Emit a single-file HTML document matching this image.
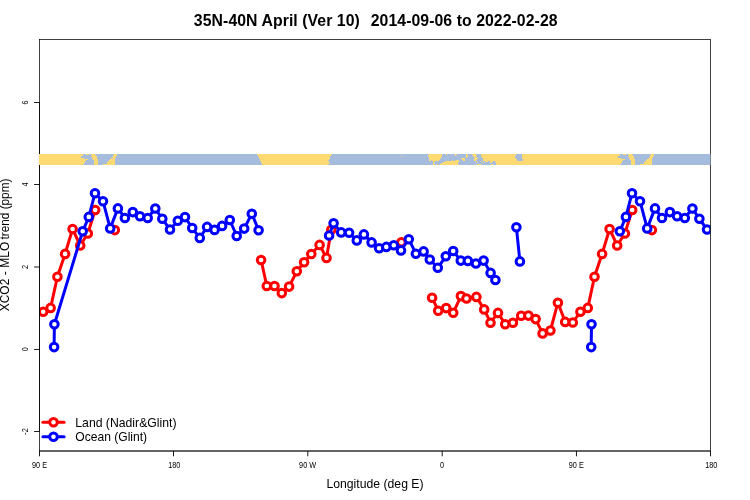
<!DOCTYPE html>
<html><head><meta charset="utf-8"><title>35N-40N April</title>
<style>
html,body{margin:0;padding:0;background:#fff;}
body{width:750px;height:500px;overflow:hidden;}
svg{display:block;font-family:"Liberation Sans",sans-serif;fill:#000;will-change:transform;}
</style></head><body>
<svg width="750" height="500" viewBox="0 0 750 500">
<rect width="750" height="500" fill="#fff"/>
<defs><clipPath id="c"><rect x="39.5" y="39.5" width="671.0" height="411.5"/></clipPath></defs>
<g font-size="15.8" font-weight="bold"><text x="193.85" y="25.6" textLength="166.0" lengthAdjust="spacing">35N-40N April (Ver 10)</text><text x="370.75" y="25.6" textLength="186.8" lengthAdjust="spacing">2014-09-06 to 2022-02-28</text></g>
<text x="375" y="487.6" text-anchor="middle" font-size="12.23">Longitude (deg E)</text>
<g transform="translate(9,245) rotate(-90)" font-size="11.88"><text x="-66.3" y="0" textLength="69.5" lengthAdjust="spacing">XCO2 - MLO</text><text x="5.6" y="0" textLength="60.9" lengthAdjust="spacing">trend (ppm)</text></g>
<g clip-path="url(#c)">
<polyline fill="none" stroke="#ff0000" stroke-width="3.00" stroke-linejoin="round" stroke-linecap="round" points="43.2,311.7 50.6,307.9 57.4,276.8 65.1,253.9 72.6,229.0 80.2,245.5 87.8,233.5 95.2,210.0"/>
<polyline fill="none" stroke="#ff0000" stroke-width="3.00" stroke-linejoin="round" stroke-linecap="round" points="261.1,260.0 266.8,286.0 274.5,286.0 281.8,293.1 289.1,286.6 296.8,271.3 304.1,262.3 311.3,254.0 319.6,244.9 326.5,257.9 331.3,229.7"/>
<polyline fill="none" stroke="#ff0000" stroke-width="3.00" stroke-linejoin="round" stroke-linecap="round" points="432.1,297.7 438.2,310.7 446.2,308.1 453.2,312.8 460.9,296.1 466.5,298.5 476.4,296.9 484.2,309.4 490.5,322.7 498.0,312.9 505.2,324.3 512.9,322.7 521.2,315.8 528.4,315.6 535.6,319.1 542.6,333.4 550.4,330.5 557.9,302.7 565.2,321.9 572.8,322.5 580.4,311.7 587.8,307.9 594.5,276.8 602.1,253.9 609.6,229.0 617.2,245.5 624.9,233.5 632.2,210.0"/>
<circle cx="43.2" cy="311.7" r="3.80" fill="#fff" stroke="#ff0000" stroke-width="3.00"/>
<circle cx="50.6" cy="307.9" r="3.80" fill="#fff" stroke="#ff0000" stroke-width="3.00"/>
<circle cx="57.4" cy="276.8" r="3.80" fill="#fff" stroke="#ff0000" stroke-width="3.00"/>
<circle cx="65.1" cy="253.9" r="3.80" fill="#fff" stroke="#ff0000" stroke-width="3.00"/>
<circle cx="72.6" cy="229.0" r="3.80" fill="#fff" stroke="#ff0000" stroke-width="3.00"/>
<circle cx="80.2" cy="245.5" r="3.80" fill="#fff" stroke="#ff0000" stroke-width="3.00"/>
<circle cx="87.8" cy="233.5" r="3.80" fill="#fff" stroke="#ff0000" stroke-width="3.00"/>
<circle cx="95.2" cy="210.0" r="3.80" fill="#fff" stroke="#ff0000" stroke-width="3.00"/>
<circle cx="114.8" cy="230.1" r="3.80" fill="#fff" stroke="#ff0000" stroke-width="3.00"/>
<circle cx="261.1" cy="260.0" r="3.80" fill="#fff" stroke="#ff0000" stroke-width="3.00"/>
<circle cx="266.8" cy="286.0" r="3.80" fill="#fff" stroke="#ff0000" stroke-width="3.00"/>
<circle cx="274.5" cy="286.0" r="3.80" fill="#fff" stroke="#ff0000" stroke-width="3.00"/>
<circle cx="281.8" cy="293.1" r="3.80" fill="#fff" stroke="#ff0000" stroke-width="3.00"/>
<circle cx="289.1" cy="286.6" r="3.80" fill="#fff" stroke="#ff0000" stroke-width="3.00"/>
<circle cx="296.8" cy="271.3" r="3.80" fill="#fff" stroke="#ff0000" stroke-width="3.00"/>
<circle cx="304.1" cy="262.3" r="3.80" fill="#fff" stroke="#ff0000" stroke-width="3.00"/>
<circle cx="311.3" cy="254.0" r="3.80" fill="#fff" stroke="#ff0000" stroke-width="3.00"/>
<circle cx="319.6" cy="244.9" r="3.80" fill="#fff" stroke="#ff0000" stroke-width="3.00"/>
<circle cx="326.5" cy="257.9" r="3.80" fill="#fff" stroke="#ff0000" stroke-width="3.00"/>
<circle cx="331.3" cy="229.7" r="3.80" fill="#fff" stroke="#ff0000" stroke-width="3.00"/>
<circle cx="401.4" cy="242.3" r="3.80" fill="#fff" stroke="#ff0000" stroke-width="3.00"/>
<circle cx="432.1" cy="297.7" r="3.80" fill="#fff" stroke="#ff0000" stroke-width="3.00"/>
<circle cx="438.2" cy="310.7" r="3.80" fill="#fff" stroke="#ff0000" stroke-width="3.00"/>
<circle cx="446.2" cy="308.1" r="3.80" fill="#fff" stroke="#ff0000" stroke-width="3.00"/>
<circle cx="453.2" cy="312.8" r="3.80" fill="#fff" stroke="#ff0000" stroke-width="3.00"/>
<circle cx="460.9" cy="296.1" r="3.80" fill="#fff" stroke="#ff0000" stroke-width="3.00"/>
<circle cx="466.5" cy="298.5" r="3.80" fill="#fff" stroke="#ff0000" stroke-width="3.00"/>
<circle cx="476.4" cy="296.9" r="3.80" fill="#fff" stroke="#ff0000" stroke-width="3.00"/>
<circle cx="484.2" cy="309.4" r="3.80" fill="#fff" stroke="#ff0000" stroke-width="3.00"/>
<circle cx="490.5" cy="322.7" r="3.80" fill="#fff" stroke="#ff0000" stroke-width="3.00"/>
<circle cx="498.0" cy="312.9" r="3.80" fill="#fff" stroke="#ff0000" stroke-width="3.00"/>
<circle cx="505.2" cy="324.3" r="3.80" fill="#fff" stroke="#ff0000" stroke-width="3.00"/>
<circle cx="512.9" cy="322.7" r="3.80" fill="#fff" stroke="#ff0000" stroke-width="3.00"/>
<circle cx="521.2" cy="315.8" r="3.80" fill="#fff" stroke="#ff0000" stroke-width="3.00"/>
<circle cx="528.4" cy="315.6" r="3.80" fill="#fff" stroke="#ff0000" stroke-width="3.00"/>
<circle cx="535.6" cy="319.1" r="3.80" fill="#fff" stroke="#ff0000" stroke-width="3.00"/>
<circle cx="542.6" cy="333.4" r="3.80" fill="#fff" stroke="#ff0000" stroke-width="3.00"/>
<circle cx="550.4" cy="330.5" r="3.80" fill="#fff" stroke="#ff0000" stroke-width="3.00"/>
<circle cx="557.9" cy="302.7" r="3.80" fill="#fff" stroke="#ff0000" stroke-width="3.00"/>
<circle cx="565.2" cy="321.9" r="3.80" fill="#fff" stroke="#ff0000" stroke-width="3.00"/>
<circle cx="572.8" cy="322.5" r="3.80" fill="#fff" stroke="#ff0000" stroke-width="3.00"/>
<circle cx="580.4" cy="311.7" r="3.80" fill="#fff" stroke="#ff0000" stroke-width="3.00"/>
<circle cx="587.8" cy="307.9" r="3.80" fill="#fff" stroke="#ff0000" stroke-width="3.00"/>
<circle cx="594.5" cy="276.8" r="3.80" fill="#fff" stroke="#ff0000" stroke-width="3.00"/>
<circle cx="602.1" cy="253.9" r="3.80" fill="#fff" stroke="#ff0000" stroke-width="3.00"/>
<circle cx="609.6" cy="229.0" r="3.80" fill="#fff" stroke="#ff0000" stroke-width="3.00"/>
<circle cx="617.2" cy="245.5" r="3.80" fill="#fff" stroke="#ff0000" stroke-width="3.00"/>
<circle cx="624.9" cy="233.5" r="3.80" fill="#fff" stroke="#ff0000" stroke-width="3.00"/>
<circle cx="632.2" cy="210.0" r="3.80" fill="#fff" stroke="#ff0000" stroke-width="3.00"/>
<circle cx="651.9" cy="230.1" r="3.80" fill="#fff" stroke="#ff0000" stroke-width="3.00"/>
<polyline fill="none" stroke="#0000ff" stroke-width="3.00" stroke-linejoin="round" stroke-linecap="round" points="54.1,347.1 54.4,324.2 82.7,231.3 88.8,216.9 95.0,193.2 103.0,201.2 110.2,228.4 117.9,208.4 124.9,218.0 132.8,212.1 140.0,216.3 147.7,218.0 155.3,208.5 162.3,218.8 170.0,229.5 177.8,220.8 185.0,217.1 192.2,228.0 199.8,237.9 207.1,226.9 214.6,229.9 222.1,225.9 229.8,220.0 236.7,236.0 244.2,228.6 251.8,213.7 258.6,230.2"/>
<polyline fill="none" stroke="#0000ff" stroke-width="3.00" stroke-linejoin="round" stroke-linecap="round" points="329.1,235.5 333.6,223.3 341.2,232.4 349.1,232.7 356.8,240.4 363.9,234.4 371.6,242.4 379.1,248.3 386.3,246.9 393.8,245.3 401.0,250.4 408.8,239.2 415.9,253.7 423.6,251.4 429.8,259.5 437.8,267.8 445.8,256.3 453.2,251.0 460.8,260.6 467.9,260.9 475.9,263.5 483.6,260.6 490.6,272.9 495.4,280.0"/>
<polyline fill="none" stroke="#0000ff" stroke-width="3.00" stroke-linejoin="round" stroke-linecap="round" points="516.4,227.3 519.9,261.4"/>
<polyline fill="none" stroke="#0000ff" stroke-width="3.00" stroke-linejoin="round" stroke-linecap="round" points="591.2,347.1 591.5,324.2"/>
<polyline fill="none" stroke="#0000ff" stroke-width="3.00" stroke-linejoin="round" stroke-linecap="round" points="619.8,231.3 625.9,216.9 632.0,193.2 640.0,201.2 647.2,228.4 655.0,208.4 662.0,218.0 669.9,212.1 677.1,216.3 684.8,218.0 692.4,208.5 699.4,218.8 707.1,229.5"/>
<circle cx="54.1" cy="347.1" r="3.80" fill="#fff" stroke="#0000ff" stroke-width="3.00"/>
<circle cx="54.4" cy="324.2" r="3.80" fill="#fff" stroke="#0000ff" stroke-width="3.00"/>
<circle cx="82.7" cy="231.3" r="3.80" fill="#fff" stroke="#0000ff" stroke-width="3.00"/>
<circle cx="88.8" cy="216.9" r="3.80" fill="#fff" stroke="#0000ff" stroke-width="3.00"/>
<circle cx="95.0" cy="193.2" r="3.80" fill="#fff" stroke="#0000ff" stroke-width="3.00"/>
<circle cx="103.0" cy="201.2" r="3.80" fill="#fff" stroke="#0000ff" stroke-width="3.00"/>
<circle cx="110.2" cy="228.4" r="3.80" fill="#fff" stroke="#0000ff" stroke-width="3.00"/>
<circle cx="117.9" cy="208.4" r="3.80" fill="#fff" stroke="#0000ff" stroke-width="3.00"/>
<circle cx="124.9" cy="218.0" r="3.80" fill="#fff" stroke="#0000ff" stroke-width="3.00"/>
<circle cx="132.8" cy="212.1" r="3.80" fill="#fff" stroke="#0000ff" stroke-width="3.00"/>
<circle cx="140.0" cy="216.3" r="3.80" fill="#fff" stroke="#0000ff" stroke-width="3.00"/>
<circle cx="147.7" cy="218.0" r="3.80" fill="#fff" stroke="#0000ff" stroke-width="3.00"/>
<circle cx="155.3" cy="208.5" r="3.80" fill="#fff" stroke="#0000ff" stroke-width="3.00"/>
<circle cx="162.3" cy="218.8" r="3.80" fill="#fff" stroke="#0000ff" stroke-width="3.00"/>
<circle cx="170.0" cy="229.5" r="3.80" fill="#fff" stroke="#0000ff" stroke-width="3.00"/>
<circle cx="177.8" cy="220.8" r="3.80" fill="#fff" stroke="#0000ff" stroke-width="3.00"/>
<circle cx="185.0" cy="217.1" r="3.80" fill="#fff" stroke="#0000ff" stroke-width="3.00"/>
<circle cx="192.2" cy="228.0" r="3.80" fill="#fff" stroke="#0000ff" stroke-width="3.00"/>
<circle cx="199.8" cy="237.9" r="3.80" fill="#fff" stroke="#0000ff" stroke-width="3.00"/>
<circle cx="207.1" cy="226.9" r="3.80" fill="#fff" stroke="#0000ff" stroke-width="3.00"/>
<circle cx="214.6" cy="229.9" r="3.80" fill="#fff" stroke="#0000ff" stroke-width="3.00"/>
<circle cx="222.1" cy="225.9" r="3.80" fill="#fff" stroke="#0000ff" stroke-width="3.00"/>
<circle cx="229.8" cy="220.0" r="3.80" fill="#fff" stroke="#0000ff" stroke-width="3.00"/>
<circle cx="236.7" cy="236.0" r="3.80" fill="#fff" stroke="#0000ff" stroke-width="3.00"/>
<circle cx="244.2" cy="228.6" r="3.80" fill="#fff" stroke="#0000ff" stroke-width="3.00"/>
<circle cx="251.8" cy="213.7" r="3.80" fill="#fff" stroke="#0000ff" stroke-width="3.00"/>
<circle cx="258.6" cy="230.2" r="3.80" fill="#fff" stroke="#0000ff" stroke-width="3.00"/>
<circle cx="329.1" cy="235.5" r="3.80" fill="#fff" stroke="#0000ff" stroke-width="3.00"/>
<circle cx="333.6" cy="223.3" r="3.80" fill="#fff" stroke="#0000ff" stroke-width="3.00"/>
<circle cx="341.2" cy="232.4" r="3.80" fill="#fff" stroke="#0000ff" stroke-width="3.00"/>
<circle cx="349.1" cy="232.7" r="3.80" fill="#fff" stroke="#0000ff" stroke-width="3.00"/>
<circle cx="356.8" cy="240.4" r="3.80" fill="#fff" stroke="#0000ff" stroke-width="3.00"/>
<circle cx="363.9" cy="234.4" r="3.80" fill="#fff" stroke="#0000ff" stroke-width="3.00"/>
<circle cx="371.6" cy="242.4" r="3.80" fill="#fff" stroke="#0000ff" stroke-width="3.00"/>
<circle cx="379.1" cy="248.3" r="3.80" fill="#fff" stroke="#0000ff" stroke-width="3.00"/>
<circle cx="386.3" cy="246.9" r="3.80" fill="#fff" stroke="#0000ff" stroke-width="3.00"/>
<circle cx="393.8" cy="245.3" r="3.80" fill="#fff" stroke="#0000ff" stroke-width="3.00"/>
<circle cx="401.0" cy="250.4" r="3.80" fill="#fff" stroke="#0000ff" stroke-width="3.00"/>
<circle cx="408.8" cy="239.2" r="3.80" fill="#fff" stroke="#0000ff" stroke-width="3.00"/>
<circle cx="415.9" cy="253.7" r="3.80" fill="#fff" stroke="#0000ff" stroke-width="3.00"/>
<circle cx="423.6" cy="251.4" r="3.80" fill="#fff" stroke="#0000ff" stroke-width="3.00"/>
<circle cx="429.8" cy="259.5" r="3.80" fill="#fff" stroke="#0000ff" stroke-width="3.00"/>
<circle cx="437.8" cy="267.8" r="3.80" fill="#fff" stroke="#0000ff" stroke-width="3.00"/>
<circle cx="445.8" cy="256.3" r="3.80" fill="#fff" stroke="#0000ff" stroke-width="3.00"/>
<circle cx="453.2" cy="251.0" r="3.80" fill="#fff" stroke="#0000ff" stroke-width="3.00"/>
<circle cx="460.8" cy="260.6" r="3.80" fill="#fff" stroke="#0000ff" stroke-width="3.00"/>
<circle cx="467.9" cy="260.9" r="3.80" fill="#fff" stroke="#0000ff" stroke-width="3.00"/>
<circle cx="475.9" cy="263.5" r="3.80" fill="#fff" stroke="#0000ff" stroke-width="3.00"/>
<circle cx="483.6" cy="260.6" r="3.80" fill="#fff" stroke="#0000ff" stroke-width="3.00"/>
<circle cx="490.6" cy="272.9" r="3.80" fill="#fff" stroke="#0000ff" stroke-width="3.00"/>
<circle cx="495.4" cy="280.0" r="3.80" fill="#fff" stroke="#0000ff" stroke-width="3.00"/>
<circle cx="516.4" cy="227.3" r="3.80" fill="#fff" stroke="#0000ff" stroke-width="3.00"/>
<circle cx="519.9" cy="261.4" r="3.80" fill="#fff" stroke="#0000ff" stroke-width="3.00"/>
<circle cx="591.2" cy="347.1" r="3.80" fill="#fff" stroke="#0000ff" stroke-width="3.00"/>
<circle cx="591.5" cy="324.2" r="3.80" fill="#fff" stroke="#0000ff" stroke-width="3.00"/>
<circle cx="619.8" cy="231.3" r="3.80" fill="#fff" stroke="#0000ff" stroke-width="3.00"/>
<circle cx="625.9" cy="216.9" r="3.80" fill="#fff" stroke="#0000ff" stroke-width="3.00"/>
<circle cx="632.0" cy="193.2" r="3.80" fill="#fff" stroke="#0000ff" stroke-width="3.00"/>
<circle cx="640.0" cy="201.2" r="3.80" fill="#fff" stroke="#0000ff" stroke-width="3.00"/>
<circle cx="647.2" cy="228.4" r="3.80" fill="#fff" stroke="#0000ff" stroke-width="3.00"/>
<circle cx="655.0" cy="208.4" r="3.80" fill="#fff" stroke="#0000ff" stroke-width="3.00"/>
<circle cx="662.0" cy="218.0" r="3.80" fill="#fff" stroke="#0000ff" stroke-width="3.00"/>
<circle cx="669.9" cy="212.1" r="3.80" fill="#fff" stroke="#0000ff" stroke-width="3.00"/>
<circle cx="677.1" cy="216.3" r="3.80" fill="#fff" stroke="#0000ff" stroke-width="3.00"/>
<circle cx="684.8" cy="218.0" r="3.80" fill="#fff" stroke="#0000ff" stroke-width="3.00"/>
<circle cx="692.4" cy="208.5" r="3.80" fill="#fff" stroke="#0000ff" stroke-width="3.00"/>
<circle cx="699.4" cy="218.8" r="3.80" fill="#fff" stroke="#0000ff" stroke-width="3.00"/>
<circle cx="707.1" cy="229.5" r="3.80" fill="#fff" stroke="#0000ff" stroke-width="3.00"/>
</g>
<rect x="39.5" y="39.5" width="671.0" height="411.5" fill="none" stroke="#000" stroke-width="0.75"/>
<path d="M39.5 451.0H710.5" fill="none" stroke="#000" stroke-width="0.75"/>
<path d="M39.50 451.0V456.3" fill="none" stroke="#000" stroke-width="0.9"/>
<text transform="translate(39.5,468.3) scale(1,1.13)" text-anchor="middle" font-size="7.3">90 E</text>
<path d="M173.50 451.0V456.3" fill="none" stroke="#000" stroke-width="0.9"/>
<text transform="translate(174.3,468.3) scale(1,1.13)" text-anchor="middle" font-size="7.3">180</text>
<path d="M307.80 451.0V456.3" fill="none" stroke="#000" stroke-width="0.9"/>
<text transform="translate(307.6,468.3) scale(1,1.13)" text-anchor="middle" font-size="7.3">90 W</text>
<path d="M442.20 451.0V456.3" fill="none" stroke="#000" stroke-width="0.9"/>
<text transform="translate(442.1,468.3) scale(1,1.13)" text-anchor="middle" font-size="7.3">0</text>
<path d="M576.45 451.0V456.3" fill="none" stroke="#000" stroke-width="0.9"/>
<text transform="translate(576.3,468.3) scale(1,1.13)" text-anchor="middle" font-size="7.3">90 E</text>
<path d="M710.50 451.0V456.3" fill="none" stroke="#000" stroke-width="0.9"/>
<text transform="translate(711.3,468.3) scale(1,1.13)" text-anchor="middle" font-size="7.3">180</text>
<path d="M39.5 431.50V102.50" fill="none" stroke="#000" stroke-width="0.75"/>
<path d="M34.1 431.50H39.5" fill="none" stroke="#000" stroke-width="0.9"/>
<text transform="translate(27.7,431.4) rotate(-90) scale(1,1.16)" text-anchor="middle" font-size="7.3">-2</text>
<path d="M34.1 349.45H39.5" fill="none" stroke="#000" stroke-width="0.9"/>
<text transform="translate(27.7,349.3) rotate(-90) scale(1,1.16)" text-anchor="middle" font-size="7.3">0</text>
<path d="M34.1 267.00H39.5" fill="none" stroke="#000" stroke-width="0.9"/>
<text transform="translate(27.7,266.9) rotate(-90) scale(1,1.16)" text-anchor="middle" font-size="7.3">2</text>
<path d="M34.1 184.50H39.5" fill="none" stroke="#000" stroke-width="0.9"/>
<text transform="translate(27.7,184.4) rotate(-90) scale(1,1.16)" text-anchor="middle" font-size="7.3">4</text>
<path d="M34.1 102.50H39.5" fill="none" stroke="#000" stroke-width="0.9"/>
<text transform="translate(27.7,102.4) rotate(-90) scale(1,1.16)" text-anchor="middle" font-size="7.3">6</text>
<g shape-rendering="crispEdges">
<rect x="38.75" y="153.88" width="671.25" height="1.03" fill="#a6bcdc"/>
<rect x="38.75" y="154.89" width="671.25" height="1.03" fill="#a6bcdc"/>
<rect x="38.75" y="155.90" width="671.25" height="1.03" fill="#a6bcdc"/>
<rect x="38.75" y="156.91" width="671.25" height="1.03" fill="#a6bcdc"/>
<rect x="38.75" y="157.92" width="671.25" height="1.03" fill="#a6bcdc"/>
<rect x="38.75" y="158.93" width="671.25" height="1.03" fill="#a6bcdc"/>
<rect x="38.75" y="159.95" width="671.25" height="1.03" fill="#a6bcdc"/>
<rect x="38.75" y="160.96" width="671.25" height="1.03" fill="#a6bcdc"/>
<rect x="38.75" y="161.97" width="671.25" height="1.03" fill="#a6bcdc"/>
<rect x="38.75" y="162.98" width="671.25" height="1.03" fill="#a6bcdc"/>
<rect x="38.75" y="163.99" width="671.25" height="1.03" fill="#a6bcdc"/>
<rect x="38.75" y="153.88" width="41.25" height="1.03" fill="#ffd972"/>
<rect x="38.75" y="154.89" width="41.25" height="1.03" fill="#ffd972"/>
<rect x="38.75" y="155.90" width="41.25" height="1.03" fill="#ffd972"/>
<rect x="38.75" y="156.91" width="41.25" height="1.03" fill="#ffd972"/>
<rect x="38.75" y="157.92" width="41.25" height="1.03" fill="#ffd972"/>
<rect x="38.75" y="158.93" width="41.25" height="1.03" fill="#ffd972"/>
<rect x="38.75" y="159.95" width="41.25" height="1.03" fill="#ffd972"/>
<rect x="38.75" y="160.96" width="41.25" height="1.03" fill="#ffd972"/>
<rect x="38.75" y="161.97" width="41.25" height="1.03" fill="#ffd972"/>
<rect x="38.75" y="162.98" width="41.25" height="1.03" fill="#ffd972"/>
<rect x="38.75" y="163.99" width="41.25" height="1.03" fill="#ffd972"/>
<rect x="80.00" y="153.88" width="3.22" height="1.03" fill="#ffd972"/>
<rect x="80.00" y="154.89" width="3.22" height="1.03" fill="#ffd972"/>
<rect x="80.00" y="155.90" width="1.25" height="1.03" fill="#ffd972"/>
<rect x="80.00" y="156.91" width="1.25" height="1.03" fill="#ffd972"/>
<rect x="80.00" y="157.92" width="4.08" height="1.03" fill="#ffd972"/>
<rect x="80.00" y="158.93" width="8.02" height="1.03" fill="#ffd972"/>
<rect x="80.00" y="159.95" width="6.10" height="1.03" fill="#ffd972"/>
<rect x="80.00" y="160.96" width="5.14" height="1.03" fill="#ffd972"/>
<rect x="80.00" y="161.97" width="5.14" height="1.03" fill="#ffd972"/>
<rect x="80.00" y="162.98" width="4.18" height="1.03" fill="#ffd972"/>
<rect x="80.00" y="163.99" width="3.22" height="1.03" fill="#ffd972"/>
<rect x="86.00" y="153.88" width="3.12" height="1.03" fill="#ffd972"/>
<rect x="91.04" y="153.88" width="4.08" height="1.03" fill="#ffd972"/>
<rect x="92.00" y="154.89" width="4.08" height="1.03" fill="#ffd972"/>
<rect x="91.04" y="155.90" width="6.00" height="1.03" fill="#ffd972"/>
<rect x="92.00" y="156.91" width="5.04" height="1.03" fill="#ffd972"/>
<rect x="92.00" y="157.92" width="5.04" height="1.03" fill="#ffd972"/>
<rect x="92.96" y="158.93" width="5.04" height="1.03" fill="#ffd972"/>
<rect x="93.92" y="159.95" width="4.08" height="1.03" fill="#ffd972"/>
<rect x="93.92" y="160.96" width="4.08" height="1.03" fill="#ffd972"/>
<rect x="93.92" y="161.97" width="4.08" height="1.03" fill="#ffd972"/>
<rect x="93.92" y="162.98" width="4.08" height="1.03" fill="#ffd972"/>
<rect x="93.92" y="163.99" width="4.08" height="1.03" fill="#ffd972"/>
<rect x="114.18" y="153.88" width="2.78" height="1.03" fill="#ffd972"/>
<rect x="113.22" y="154.89" width="3.74" height="1.03" fill="#ffd972"/>
<rect x="113.22" y="155.90" width="2.78" height="1.03" fill="#ffd972"/>
<rect x="112.26" y="156.91" width="3.74" height="1.03" fill="#ffd972"/>
<rect x="111.06" y="157.92" width="4.22" height="1.03" fill="#ffd972"/>
<rect x="110.10" y="158.93" width="5.18" height="1.03" fill="#ffd972"/>
<rect x="109.14" y="159.95" width="6.14" height="1.03" fill="#ffd972"/>
<rect x="108.18" y="160.96" width="7.10" height="1.03" fill="#ffd972"/>
<rect x="107.46" y="161.97" width="7.82" height="1.03" fill="#ffd972"/>
<rect x="107.12" y="162.98" width="8.16" height="1.03" fill="#ffd972"/>
<rect x="103.14" y="163.99" width="12.14" height="1.03" fill="#ffd972"/>
<rect x="112.26" y="157.92" width="0.96" height="1.03" fill="#a6bcdc"/>
<rect x="257.00" y="153.88" width="75.10" height="1.03" fill="#ffd972"/>
<rect x="257.50" y="154.89" width="73.60" height="1.03" fill="#ffd972"/>
<rect x="258.00" y="155.90" width="72.20" height="1.03" fill="#ffd972"/>
<rect x="258.50" y="156.91" width="71.70" height="1.03" fill="#ffd972"/>
<rect x="259.00" y="157.92" width="70.70" height="1.03" fill="#ffd972"/>
<rect x="259.50" y="158.93" width="69.50" height="1.03" fill="#ffd972"/>
<rect x="260.00" y="159.95" width="68.00" height="1.03" fill="#ffd972"/>
<rect x="260.50" y="160.96" width="68.20" height="1.03" fill="#ffd972"/>
<rect x="261.00" y="161.97" width="68.20" height="1.03" fill="#ffd972"/>
<rect x="261.50" y="162.98" width="68.70" height="1.03" fill="#ffd972"/>
<rect x="262.00" y="163.99" width="66.00" height="1.03" fill="#ffd972"/>
<rect x="401.00" y="155.90" width="1.00" height="1.03" fill="#ffd972"/>
<rect x="429.12" y="153.88" width="12.72" height="1.03" fill="#ffd972"/>
<rect x="445.92" y="153.88" width="1.20" height="1.03" fill="#ffd972"/>
<rect x="455.28" y="153.88" width="1.68" height="1.03" fill="#ffd972"/>
<rect x="428.02" y="154.89" width="13.82" height="1.03" fill="#ffd972"/>
<rect x="455.28" y="154.89" width="0.96" height="1.03" fill="#ffd972"/>
<rect x="428.02" y="155.90" width="13.82" height="1.03" fill="#ffd972"/>
<rect x="429.12" y="156.91" width="12.24" height="1.03" fill="#ffd972"/>
<rect x="429.12" y="157.92" width="11.52" height="1.03" fill="#ffd972"/>
<rect x="461.04" y="157.92" width="0.96" height="1.03" fill="#ffd972"/>
<rect x="429.12" y="158.93" width="10.80" height="1.03" fill="#ffd972"/>
<rect x="429.12" y="159.95" width="1.68" height="1.03" fill="#ffd972"/>
<rect x="432.00" y="159.95" width="6.96" height="1.03" fill="#ffd972"/>
<rect x="452.16" y="159.95" width="0.96" height="1.03" fill="#ffd972"/>
<rect x="455.28" y="159.95" width="3.84" height="1.03" fill="#ffd972"/>
<rect x="432.96" y="160.96" width="2.16" height="1.03" fill="#ffd972"/>
<rect x="445.20" y="160.96" width="13.92" height="1.03" fill="#ffd972"/>
<rect x="432.96" y="161.97" width="1.20" height="1.03" fill="#ffd972"/>
<rect x="443.04" y="161.97" width="15.12" height="1.03" fill="#ffd972"/>
<rect x="432.96" y="162.98" width="1.20" height="1.03" fill="#ffd972"/>
<rect x="441.36" y="162.98" width="16.80" height="1.03" fill="#ffd972"/>
<rect x="432.96" y="163.99" width="2.16" height="1.03" fill="#ffd972"/>
<rect x="437.04" y="163.99" width="0.96" height="1.03" fill="#ffd972"/>
<rect x="440.16" y="163.99" width="18.96" height="1.03" fill="#ffd972"/>
<rect x="456.00" y="153.88" width="1.06" height="1.03" fill="#ffd972"/>
<rect x="465.98" y="153.88" width="1.06" height="1.03" fill="#ffd972"/>
<rect x="472.08" y="153.88" width="3.84" height="1.03" fill="#ffd972"/>
<rect x="465.98" y="154.89" width="2.02" height="1.03" fill="#ffd972"/>
<rect x="473.04" y="154.89" width="4.08" height="1.03" fill="#ffd972"/>
<rect x="465.98" y="155.90" width="2.02" height="1.03" fill="#ffd972"/>
<rect x="473.04" y="155.90" width="2.88" height="1.03" fill="#ffd972"/>
<rect x="465.98" y="156.91" width="1.06" height="1.03" fill="#ffd972"/>
<rect x="475.20" y="156.91" width="1.92" height="1.03" fill="#ffd972"/>
<rect x="461.04" y="157.92" width="4.08" height="1.03" fill="#ffd972"/>
<rect x="474.00" y="157.92" width="4.08" height="1.03" fill="#ffd972"/>
<rect x="462.00" y="158.93" width="3.12" height="1.03" fill="#ffd972"/>
<rect x="474.00" y="158.93" width="3.12" height="1.03" fill="#ffd972"/>
<rect x="456.00" y="159.95" width="3.12" height="1.03" fill="#ffd972"/>
<rect x="462.96" y="159.95" width="2.16" height="1.03" fill="#ffd972"/>
<rect x="474.00" y="159.95" width="2.16" height="1.03" fill="#ffd972"/>
<rect x="456.00" y="160.96" width="2.16" height="1.03" fill="#ffd972"/>
<rect x="475.92" y="160.96" width="1.20" height="1.03" fill="#ffd972"/>
<rect x="480.96" y="160.96" width="1.20" height="1.03" fill="#ffd972"/>
<rect x="456.00" y="161.97" width="2.16" height="1.03" fill="#ffd972"/>
<rect x="475.92" y="161.97" width="1.20" height="1.03" fill="#ffd972"/>
<rect x="482.88" y="161.97" width="1.20" height="1.03" fill="#ffd972"/>
<rect x="456.00" y="162.98" width="2.16" height="1.03" fill="#ffd972"/>
<rect x="456.00" y="163.99" width="3.12" height="1.03" fill="#ffd972"/>
<rect x="477.12" y="163.99" width="3.84" height="1.03" fill="#ffd972"/>
<rect x="480.96" y="153.88" width="135.84" height="1.03" fill="#ffd972"/>
<rect x="480.96" y="154.89" width="135.84" height="1.03" fill="#ffd972"/>
<rect x="480.96" y="155.90" width="135.84" height="1.03" fill="#ffd972"/>
<rect x="482.16" y="156.91" width="134.64" height="1.03" fill="#ffd972"/>
<rect x="483.12" y="157.92" width="133.68" height="1.03" fill="#ffd972"/>
<rect x="483.12" y="158.93" width="133.68" height="1.03" fill="#ffd972"/>
<rect x="483.12" y="159.95" width="133.68" height="1.03" fill="#ffd972"/>
<rect x="484.80" y="160.96" width="132.00" height="1.03" fill="#ffd972"/>
<rect x="489.84" y="161.97" width="126.96" height="1.03" fill="#ffd972"/>
<rect x="488.00" y="160.96" width="1.90" height="1.03" fill="#a6bcdc"/>
<rect x="495.90" y="162.98" width="120.90" height="1.03" fill="#ffd972"/>
<rect x="495.90" y="163.99" width="120.90" height="1.03" fill="#ffd972"/>
<rect x="491.04" y="163.99" width="1.96" height="1.03" fill="#ffd972"/>
<rect x="493.04" y="160.96" width="1.92" height="1.03" fill="#a6bcdc"/>
<rect x="492.08" y="161.97" width="3.84" height="1.03" fill="#a6bcdc"/>
<rect x="516.08" y="153.88" width="5.76" height="1.03" fill="#a6bcdc"/>
<rect x="516.08" y="154.89" width="5.76" height="1.03" fill="#a6bcdc"/>
<rect x="515.12" y="155.90" width="6.72" height="1.03" fill="#a6bcdc"/>
<rect x="515.12" y="156.91" width="6.72" height="1.03" fill="#a6bcdc"/>
<rect x="516.08" y="157.92" width="5.76" height="1.03" fill="#a6bcdc"/>
<rect x="517.04" y="158.93" width="5.76" height="1.03" fill="#a6bcdc"/>
<rect x="517.04" y="159.95" width="5.76" height="1.03" fill="#a6bcdc"/>
<rect x="616.80" y="153.88" width="3.22" height="1.03" fill="#ffd972"/>
<rect x="616.80" y="154.89" width="3.22" height="1.03" fill="#ffd972"/>
<rect x="616.80" y="155.90" width="1.25" height="1.03" fill="#ffd972"/>
<rect x="616.80" y="156.91" width="1.25" height="1.03" fill="#ffd972"/>
<rect x="616.80" y="157.92" width="4.08" height="1.03" fill="#ffd972"/>
<rect x="616.80" y="158.93" width="8.02" height="1.03" fill="#ffd972"/>
<rect x="616.80" y="159.95" width="6.10" height="1.03" fill="#ffd972"/>
<rect x="616.80" y="160.96" width="5.14" height="1.03" fill="#ffd972"/>
<rect x="616.80" y="161.97" width="5.14" height="1.03" fill="#ffd972"/>
<rect x="616.80" y="162.98" width="4.18" height="1.03" fill="#ffd972"/>
<rect x="616.80" y="163.99" width="3.22" height="1.03" fill="#ffd972"/>
<rect x="622.80" y="153.88" width="3.12" height="1.03" fill="#ffd972"/>
<rect x="627.84" y="153.88" width="4.08" height="1.03" fill="#ffd972"/>
<rect x="628.80" y="154.89" width="4.08" height="1.03" fill="#ffd972"/>
<rect x="627.84" y="155.90" width="6.00" height="1.03" fill="#ffd972"/>
<rect x="628.80" y="156.91" width="5.04" height="1.03" fill="#ffd972"/>
<rect x="628.80" y="157.92" width="5.04" height="1.03" fill="#ffd972"/>
<rect x="629.76" y="158.93" width="5.04" height="1.03" fill="#ffd972"/>
<rect x="630.72" y="159.95" width="4.08" height="1.03" fill="#ffd972"/>
<rect x="630.72" y="160.96" width="4.08" height="1.03" fill="#ffd972"/>
<rect x="630.72" y="161.97" width="4.08" height="1.03" fill="#ffd972"/>
<rect x="630.72" y="162.98" width="4.08" height="1.03" fill="#ffd972"/>
<rect x="630.72" y="163.99" width="4.08" height="1.03" fill="#ffd972"/>
<rect x="650.98" y="153.88" width="2.78" height="1.03" fill="#ffd972"/>
<rect x="650.02" y="154.89" width="3.74" height="1.03" fill="#ffd972"/>
<rect x="650.02" y="155.90" width="2.78" height="1.03" fill="#ffd972"/>
<rect x="649.06" y="156.91" width="3.74" height="1.03" fill="#ffd972"/>
<rect x="647.86" y="157.92" width="4.22" height="1.03" fill="#ffd972"/>
<rect x="646.90" y="158.93" width="5.18" height="1.03" fill="#ffd972"/>
<rect x="645.94" y="159.95" width="6.14" height="1.03" fill="#ffd972"/>
<rect x="644.98" y="160.96" width="7.10" height="1.03" fill="#ffd972"/>
<rect x="644.26" y="161.97" width="7.82" height="1.03" fill="#ffd972"/>
<rect x="643.92" y="162.98" width="8.16" height="1.03" fill="#ffd972"/>
<rect x="639.94" y="163.99" width="12.14" height="1.03" fill="#ffd972"/>
<rect x="649.06" y="157.92" width="0.96" height="1.03" fill="#a6bcdc"/>
<rect x="710" y="153.88" width="1" height="11.12" fill="#a6bcdc" fill-opacity="0.55"/>
<rect x="38" y="153.88" width="1" height="11.12" fill="#a6bcdc" fill-opacity="0.15"/>
</g>
<g>
<line x1="42.9" y1="422.3" x2="64.1" y2="422.3" stroke="#ff0000" stroke-width="3.0" stroke-linecap="round"/>
<circle cx="53.5" cy="422.3" r="3.8" fill="#fff" stroke="#ff0000" stroke-width="3.0"/>
<line x1="42.9" y1="436.7" x2="64.1" y2="436.7" stroke="#0000ff" stroke-width="3.0" stroke-linecap="round"/>
<circle cx="53.5" cy="436.7" r="3.8" fill="#fff" stroke="#0000ff" stroke-width="3.0"/>
<text x="75.3" y="426.6" font-size="12.23">Land (Nadir&amp;Glint)</text>
<text x="75.3" y="441.0" font-size="12.08">Ocean (Glint)</text>
</g>
</svg>
</body></html>
